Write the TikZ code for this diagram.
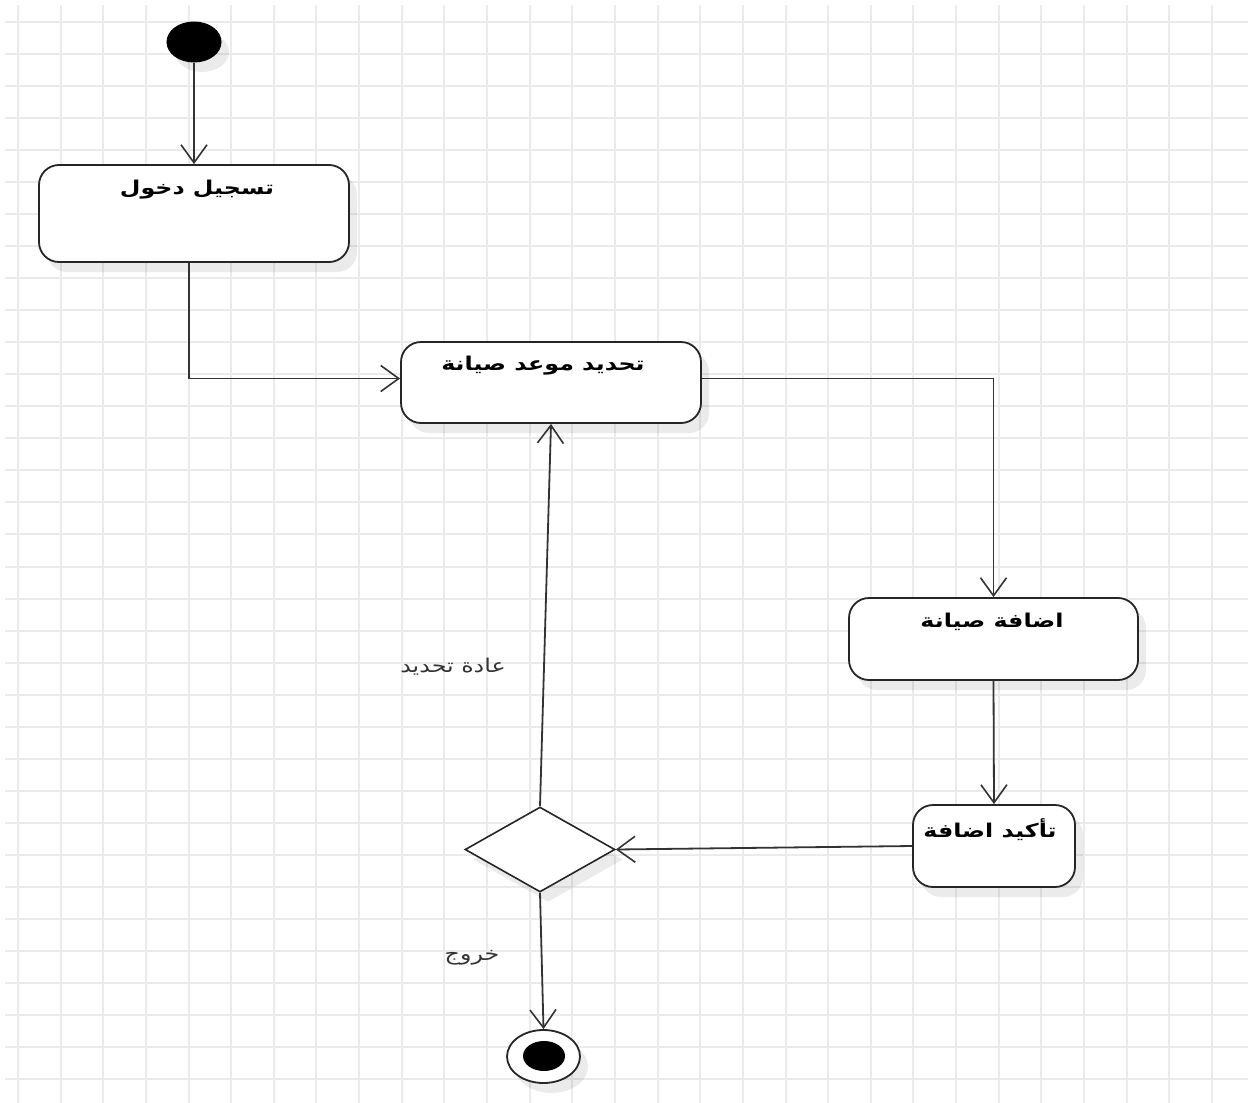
\documentclass[tikz,border=0pt]{standalone}
\usepackage{fontspec}
\newfontfamily\arabicfont[Script=Arabic, FakeStretch=1.25]{DejaVu Sans}
\TeXXeTstate=1
\usetikzlibrary{arrows.meta,shapes.geometric,shadows}
\begin{document}
\begin{tikzpicture}[x=1pt,y=-1pt,
  gridline/.style={draw=black!8, line width=2pt},
  shade/.style={drop shadow={shadow xshift=8pt, shadow yshift=-10pt, fill=black, opacity=0.08}},
  act/.style={draw=black!85, line width=1.8pt, rounded corners=20pt, fill=white, inner sep=0pt, shade},
  boxtext/.style={font=\arabicfont\bfseries\fontsize{19}{22}\selectfont, text=black, inner sep=0pt},
  guardtext/.style={font=\arabicfont\fontsize{19}{22}\selectfont, text=black!80, inner sep=0pt},
  flow/.style={draw=black!80, line width=1.8pt, -{Straight Barb[length=18pt, width=26pt, line width=1.6pt]}},
  startnode/.style={ellipse, fill=black, draw=black, line width=1pt, minimum width=54pt, minimum height=40pt, inner sep=0pt, shade},
  decision/.style={diamond, draw=black!85, line width=1.6pt, fill=white, minimum width=150pt, minimum height=85pt, inner sep=0pt, shade},
  endouter/.style={ellipse, draw=black!85, line width=1.8pt, fill=white, minimum width=73pt, minimum height=53pt, inner sep=0pt, shade},
  endinner/.style={ellipse, fill=black, minimum width=42pt, minimum height=30pt, inner sep=0pt}
]
\useasboundingbox (0,0) rectangle (1248,1103);
\fill[white] (0,0) rectangle (1248,1103);
% grid
\foreach \i in {0,...,28} \draw[gridline] ({18+42.64*\i},5) -- ({18+42.64*\i},1103);
\foreach \j in {0,...,33} \draw[gridline] (5,{22+32.03*\j}) -- (1248,{22+32.03*\j});

% nodes
\node[startnode] (start) at (194,42) {};
\node[act, minimum width=310pt, minimum height=97pt] (b1) at (194,213.5) {};
\node[boxtext] (t1) at (197,190) {\beginR تسجيل دخول\endR};

\node[act, minimum width=300pt, minimum height=81pt] (b2) at (551,382.5) {};
\node[boxtext] (t2) at (543,366) {\beginR تحديد موعد صيانة\endR};

\node[act, minimum width=289pt, minimum height=82pt] (b3) at (993.5,639) {};
\node[boxtext] (t3) at (992,622) {\beginR اضافة صيانة\endR};

\node[act, minimum width=162pt, minimum height=82pt] (b4) at (994,846) {};
\node[boxtext] (t4) at (990,830) {\beginR تأكيد اضافة\endR};

\node[decision] (dec) at (540,849.5) {};

\node[endouter] (fin) at (543.5,1056.5) {};
\node[endinner] (fininner) at (544,1056) {};

\node[guardtext] (g1) at (453,667) {\beginR عادة تحديد\endR};
\node[guardtext] (g2) at (472,958) {\beginR خروج\endR};

% connectors
\draw[flow] (start) -- (b1);
\draw[flow] ([xshift=-5pt]b1.south) |- ([yshift=4pt]b2.west);
\draw[flow] ([yshift=4pt]b2.east) -| (b3.north);
\draw[flow] (b3.south) -- (b4.north);
\draw[flow] (b4.west) -- (dec.east);
\draw[flow] (dec.north) -- (b2.south);
\draw[flow] (dec.south) -- (fin.north);
\end{tikzpicture}
\end{document}
